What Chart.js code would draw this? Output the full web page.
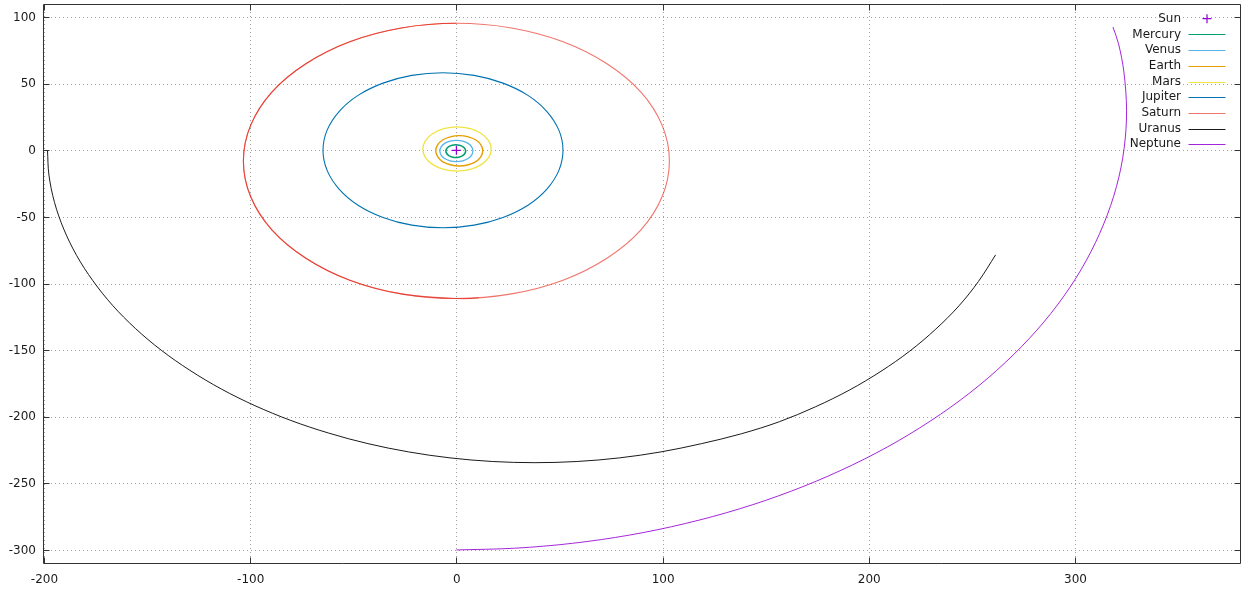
<!DOCTYPE html>
<html>
<head>
<meta charset="utf-8">
<script src="https://cdn.jsdelivr.net/npm/chart.js@4"></script>
<style>
  html, body { margin: 0; padding: 0; background: #fff; overflow: hidden; }
  #wrap { width: 1241px; height: 592px; position: relative; }
</style>
</head>
<body>
<div id="wrap"><canvas id="c"></canvas></div>
<script>
// ---- data ----
const xTicks = [-200, -100, 0, 100, 200, 300];
const yTicks = [-300, -250, -200, -150, -100, -50, 0, 50, 100];
const labels = ["Sun", "Mercury", "Venus", "Earth", "Mars", "Jupiter", "Saturn", "Uranus", "Neptune"];
const colors = ["#9400d3", "#009e73", "#56b4e9", "#e69f00", "#f0e442", "#0072b2", "#e51e10", "#000000", "#9400d3"];

// closed orbits carry one extra track point at each end (hidden, only used for smooth joins)
const sun = [[0, 0]];
const mercury = [[4.1,-2.4],[4.5,-0.6],[4.1,1.2],[3.1,2.8],[1.5,3.8],[-0.3,4.2],[-2.1,3.8],[-3.7,2.8],[-4.7,1.2],[-5.1,-0.6],[-4.7,-2.4],[-3.7,-4.0],[-2.1,-5.0],[-0.3,-5.4],[1.5,-5.0],[3.1,-4.0],[4.1,-2.4],[4.5,-0.6],[4.1,1.2]];
const venus = [[7.4,-3.6],[8,-0.5],[7.4,2.6],[5.7,5.2],[3.1,6.9],[0,7.5],[-3.1,6.9],[-5.7,5.2],[-7.4,2.6],[-8,-0.5],[-7.4,-3.6],[-5.7,-6.2],[-3.1,-7.9],[0,-8.5],[3.1,-7.9],[5.7,-6.2],[7.4,-3.6],[8,-0.5],[7.4,2.6]];
const earth = [[11.9,-4.8],[12.8,-0.4],[11.9,4.0],[9.5,7.7],[5.8,10.1],[1.4,11.0],[-3.0,10.1],[-6.7,7.7],[-9.1,4.0],[-10.0,-0.4],[-9.1,-4.8],[-6.7,-8.5],[-3.0,-10.9],[1.4,-11.8],[5.8,-10.9],[9.5,-8.5],[11.9,-4.8],[12.8,-0.4],[11.9,4.0]];
const mars = [[15.6,-5.5],[16.9,0.9],[15.6,7.3],[12.0,12.6],[6.7,16.2],[0.3,17.5],[-6.1,16.2],[-11.4,12.6],[-15.0,7.3],[-16.3,0.9],[-15.0,-5.5],[-11.4,-10.8],[-6.1,-14.4],[0.3,-15.7],[6.7,-14.4],[12.0,-10.8],[15.6,-5.5],[16.9,0.9],[15.6,7.3]];
const jupiter = [[49.7,-15.1],[51.7,0],[49.7,15.1],[43.9,29.1],[34.7,41.2],[22.6,50.4],[8.6,56.2],[-6.5,58.2],[-21.6,56.2],[-35.6,50.4],[-47.7,41.2],[-56.9,29.1],[-62.7,15.1],[-64.7,0],[-62.7,-15.1],[-56.9,-29.1],[-47.7,-41.2],[-35.6,-50.4],[-21.6,-56.2],[-6.5,-58.2],[8.6,-56.2],[22.6,-50.4],[34.7,-41.2],[43.9,-29.1],[49.7,-15.1],[51.7,0],[49.7,15.1]];
// Saturn: first lap (starts at top, counter-clockwise) then the overlapping part of the second lap
const saturnLap1 = [[26.7,91.8],[0,95.3],[-26.7,91.8],[-51.7,81.5],[-73.0,65.0],[-89.5,43.7],[-99.8,18.7],[-103.3,-8],[-99.8,-34.7],[-89.5,-59.7],[-73.0,-81.0],[-51.7,-97.5],[-26.7,-107.8],[0,-111.3],[26.7,-107.8],[51.7,-97.5],[73.0,-81.0],[89.5,-59.7],[99.8,-34.7],[103.3,-8],[99.8,18.7],[89.5,43.7],[73.0,65.0],[51.7,81.5],[26.7,91.8],[0,95.3],[-26.7,91.8]];
const saturnLap2 = [[26.7,91.8],[0,95.3],[-26.7,91.8],[-51.7,81.5],[-73.0,65.0],[-89.5,43.7],[-99.8,18.7],[-103.3,-8],[-99.8,-34.7],[-89.5,-59.7],[-73.0,-81.0],[-51.7,-97.5],[-26.7,-107.8],[0,-111.3],[10.8,-110.7],[37.0,-104.4]];
const uranus = [[-198.3,0],[-197.6,-18.6],[-194.9,-39.1],[-190.4,-59.2],[-184.2,-78.9],[-176.3,-97.9],[-166.8,-116.3],[-155.7,-133.7],[-143.2,-150.0],[-129.2,-165.2],[-114.0,-179.2],[-97.7,-191.7],[-80.3,-202.8],[-61.9,-212.3],[-42.9,-220.2],[-23.2,-226.4],[-3.1,-230.9],[17.4,-233.6],[38.0,-234.5],[58.6,-233.6],[79.1,-230.9],[99.2,-226.4],[118.9,-220.2],[138.2,-212.8],[156.7,-203.7],[174.2,-192.5],[190.7,-179.9],[205.9,-165.9],[219.9,-150.7],[232.5,-134.2],[243.7,-116.8],[253.2,-98.4],[261.5,-78.5]];
const neptune = [[0,-300],[28.3,-298.7],[56.4,-295.0],[84.1,-288.8],[111.2,-280.1],[137.4,-269.1],[162.5,-255.8],[186.4,-240.3],[208.9,-222.8],[229.8,-203.3],[249.0,-182.1],[266.2,-159.3],[281.5,-135.0],[294.6,-109.5],[305.4,-82.9],[313.9,-55.4],[320.1,-27.3],[323.8,1.2],[325.0,30.0],[323.7,58.8],[321.1,80.0],[318.4,92.5]];

// ---- build datasets ----
const pts = arr => arr.map(p => ({ x: p[0], y: p[1] }));
const FONT = "DejaVu Sans";
const saturnAlpha = "rgba(229,30,16,0.62)";
const HIDDEN = "rgba(0,0,0,0)";

function orbit(label, arr, color, width, legend, closed) {
  const n = arr.length;
  const ds = { label, data: pts(arr), borderColor: color, backgroundColor: color, borderWidth: width,
           showLine: true, pointRadius: 0, pointHoverRadius: 0, tension: 0.34,
           cubicInterpolationMode: "default", fill: false, inLegend: legend };
  if (closed) {
    ds.segment = { borderColor: c => (c.p0DataIndex === 0 || c.p1DataIndex === n - 1) ? HIDDEN : undefined };
  }
  return ds;
}
const datasets = [
  { label: labels[0], data: pts(sun), showLine: false, pointStyle: "cross", pointRadius: 4.5,
    borderColor: colors[0], backgroundColor: colors[0], pointBorderWidth: 1.2, inLegend: true },
  orbit(labels[1], mercury, colors[1], 1.6, true, true),
  orbit(labels[2], venus, colors[2], 1.3, true, true),
  orbit(labels[3], earth, colors[3], 1.4, true, true),
  orbit(labels[4], mars, colors[4], 1.3, true, true),
  orbit(labels[5], jupiter, colors[5], 1.1, true, true),
  orbit(labels[6], saturnLap1, saturnAlpha, 1.1, true, true),
  orbit(labels[6], saturnLap2, saturnAlpha, 1.1, false, true),
  orbit(labels[7], uranus, colors[7], 0.9, true, false),
  orbit(labels[8], neptune, "rgba(148,0,211,0.85)", 1.0, true, false)
];

// ---- gnuplot-like frame, grid, inward ticks, tick labels and key ----
const frame = {
  id: "frame",
  beforeDatasetsDraw(chart) {
    const { ctx, chartArea: a, scales: { x, y } } = chart;
    ctx.save();
    ctx.strokeStyle = "rgba(150,150,150,0.9)";
    ctx.lineWidth = 1;
    ctx.setLineDash([1, 3]);
    ctx.beginPath();
    xTicks.forEach(v => { const px = Math.round(x.getPixelForValue(v)) + 0.5; ctx.moveTo(px, a.top); ctx.lineTo(px, a.bottom); });
    yTicks.forEach(v => { const py = Math.round(y.getPixelForValue(v)) + 0.5; ctx.moveTo(a.left, py); ctx.lineTo(a.right, py); });
    ctx.stroke();
    ctx.restore();
  },
  afterDatasetsDraw(chart) {
    const { ctx, chartArea: a, scales: { x, y } } = chart;
    ctx.save();
    ctx.strokeStyle = "#333";
    ctx.lineWidth = 1;
    ctx.setLineDash([]);
    const L = a.left + 0.5, R = a.right - 0.5, T = a.top + 0.5, B = a.bottom + 0.5;
    ctx.beginPath();
    ctx.rect(L, T, R - L, B - T);
    const tl = 6;
    xTicks.forEach(v => { const px = Math.round(x.getPixelForValue(v)) + 0.5;
      ctx.moveTo(px, B); ctx.lineTo(px, B - tl); ctx.moveTo(px, T); ctx.lineTo(px, T + tl); });
    yTicks.forEach(v => { const py = Math.round(y.getPixelForValue(v)) + 0.5;
      ctx.moveTo(L, py); ctx.lineTo(L + tl, py); ctx.moveTo(R, py); ctx.lineTo(R - tl, py); });
    ctx.stroke();

    // tick labels
    ctx.font = "12px '" + FONT + "'";
    ctx.fillStyle = "#1a1a1a";
    ctx.textBaseline = "middle";
    ctx.textAlign = "right";
    yTicks.forEach(v => ctx.fillText(String(v), 36, y.getPixelForValue(v) + 0.5));
    ctx.textAlign = "center";
    xTicks.forEach(v => ctx.fillText(String(v), x.getPixelForValue(v) + 0.5, 580));

    // key
    const textRight = 1181, lineL = 1188.5, lineR = 1225.5, y0 = 18.7, step = 15.7;
    ctx.textAlign = "right";
    let row = 0;
    chart.data.datasets.forEach(ds => {
      if (!ds.inLegend) return;
      const yy = y0 + row * step;
      ctx.fillStyle = "#1a1a1a";
      ctx.fillText(ds.label, textRight, yy);
      ctx.strokeStyle = ds.borderColor;
      if (ds.showLine === false) {
        const cx = (lineL + lineR) / 2, r = 4.5;
        ctx.lineWidth = 1.2;
        ctx.beginPath();
        ctx.moveTo(cx - r, yy); ctx.lineTo(cx + r, yy);
        ctx.moveTo(cx, yy - r); ctx.lineTo(cx, yy + r);
        ctx.stroke();
      } else {
        ctx.lineWidth = Math.min(ds.borderWidth, 1.2);
        ctx.beginPath();
        ctx.moveTo(lineL, Math.round(yy) + 0.5); ctx.lineTo(lineR, Math.round(yy) + 0.5);
        ctx.stroke();
      }
      row++;
    });
    ctx.restore();
  }
};

new Chart(document.getElementById("c"), {
  type: "line",
  data: { datasets },
  plugins: [frame],
  options: {
    responsive: true,
    maintainAspectRatio: false,
    animation: false,
    events: [],
    layout: { autoPadding: false, padding: { top: 4, right: 0, left: 43, bottom: 29 } },
    plugins: { legend: { display: false }, tooltip: { enabled: false } },
    scales: {
      x: { type: "linear", min: -200.48, max: 380.5, display: false },
      y: { type: "linear", min: -309.8, max: 109.8, display: false }
    }
  }
});
</script>
</body>
</html>
